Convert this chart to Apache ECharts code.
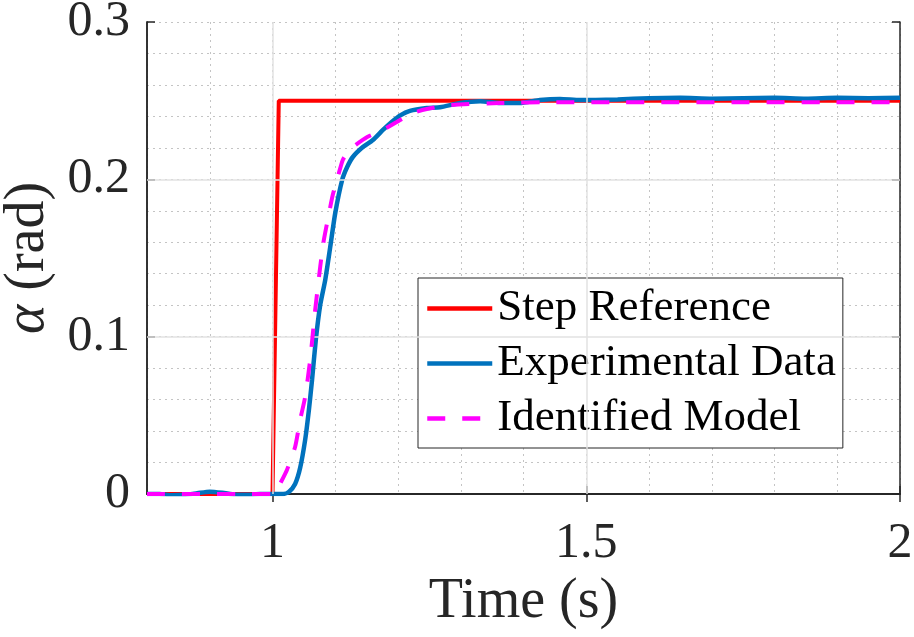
<!DOCTYPE html>
<html>
<head>
<meta charset="utf-8">
<script src="https://cdn.jsdelivr.net/npm/echarts@6/dist/echarts.min.js"></script>
<style>
  html, body { margin: 0; padding: 0; background: #fff; }
  #chart { width: 914px; height: 637px; }
</style>
</head>
<body>
<div id="chart"></div>
<script>
// step reference
const stepTime = [0.8, 1.0, 1.01, 2.0]
const stepValue = [0, 0, 0.25, 0.25]

// measured response
const expTime = [0.8, 0.82, 0.84, 0.86, 0.88, 0.9, 0.92, 0.94, 0.96, 0.98, 1.0, 1.017,
  1.026, 1.036, 1.044, 1.052, 1.058, 1.063, 1.069, 1.076, 1.084, 1.092, 1.1, 1.111,
  1.119, 1.128, 1.144, 1.16, 1.176, 1.19, 1.203, 1.219, 1.246, 1.267, 1.299, 1.331,
  1.363, 1.394, 1.426, 1.458, 1.49, 1.55, 1.6, 1.65, 1.7, 1.75, 1.8, 1.85, 1.9, 1.95, 2.0]
const expValue = [0, 0, -0.0008, -0.0005, 0.0005, 0.0015, 0.0008, -0.0003, -0.0005, 0, 0, 0,
  0.0013, 0.0064, 0.0165, 0.0343, 0.0534, 0.0725, 0.0979, 0.1201, 0.136, 0.157, 0.1786, 0.1996,
  0.2078, 0.2142, 0.2205, 0.225, 0.2314, 0.2365, 0.2405, 0.2435, 0.2453, 0.2458, 0.2485, 0.2497,
  0.2485, 0.2485, 0.2504, 0.2511, 0.2504, 0.2508, 0.2515, 0.2518, 0.2512, 0.2515, 0.2518, 0.2512, 0.2518, 0.2515, 0.2518]

// identified model
const modelTime = [0.8, 1.0, 1.006, 1.012, 1.023, 1.036, 1.044, 1.052, 1.06, 1.068, 1.076,
  1.081, 1.088, 1.096, 1.104, 1.112, 1.12, 1.128, 1.151, 1.176, 1.198, 1.224, 1.246, 1.283,
  1.363, 1.45, 2.0]
const modelValue = [0, 0, 0.0019, 0.0064, 0.0153, 0.0299, 0.047, 0.0617, 0.0852, 0.1169, 0.1443,
  0.1595, 0.1742, 0.19, 0.2015, 0.2123, 0.2174, 0.2206, 0.2269, 0.2314, 0.2364, 0.2422, 0.2447, 0.2472,
  0.2485, 0.249, 0.249]

const xTicks = [1, 1.5, 2]
const yTicks = [0, 0.1, 0.2, 0.3]
const xMajorGrid = [1, 1.5]
const yMajorGrid = [0.1, 0.2]

const pairs = (t, v) => t.map((x, i) => [x, v[i]])
const isTick = (list, v) => list.some((t) => Math.abs(t - v) < 1e-6)

const fontFamily = '"Liberation Serif", "DejaVu Serif", serif'
const axisColor = '#262626'
const minorGrid = { show: true, lineStyle: { color: '#c4c4c4', type: [2, 4], width: 1 } }
const tickStyle = { color: axisColor, width: 1.5 }

const chart = echarts.init(document.getElementById('chart'))

// x axes: [0] labels + minor grid, [1] bottom ticks, [2] top box
const xRange = { type: 'value', min: 0.8, max: 2, interval: 0.1 }
const yRange = { type: 'value', min: 0, max: 0.3, interval: 0.02 }
const tickAxis = (customValues) => ({
  axisLine: { show: true, lineStyle: { color: axisColor, width: 1.5 } },
  axisTick: { show: true, inside: true, length: 8, customValues, lineStyle: tickStyle },
  axisLabel: { show: false },
  splitLine: { show: false }
})

chart.setOption({
  animation: false,
  grid: { left: 147, right: 14, top: 22, bottom: 143, containLabel: false, outerBoundsMode: 'none' },
  xAxis: [
    {
      ...xRange,
      position: 'bottom',
      name: 'Time (s)',
      nameLocation: 'middle',
      nameGap: 78,
      nameTextStyle: { fontFamily, fontSize: 56, color: axisColor },
      axisLine: { show: true, lineStyle: { color: axisColor, width: 1.5 } },
      axisTick: { show: false },
      axisLabel: {
        margin: 25,
        fontFamily,
        fontSize: 50,
        color: axisColor,
        formatter: (v) => (isTick(xTicks, v) ? String(Math.round(v * 10) / 10) : '')
      },
      splitLine: minorGrid
    },
    { ...xRange, position: 'bottom', ...tickAxis(xTicks) },
    { ...xRange, position: 'top', ...tickAxis(xTicks) }
  ],
  yAxis: [
    {
      ...yRange,
      position: 'left',
      name: '{a|α} (rad)',
      nameLocation: 'middle',
      nameGap: 84,
      nameRotate: 90,
      nameTextStyle: {
        fontFamily,
        fontSize: 56,
        color: axisColor,
        rich: { a: { fontFamily, fontSize: 56, fontStyle: 'italic', color: axisColor } }
      },
      axisLine: { show: true, lineStyle: { color: axisColor, width: 1.5 } },
      axisTick: { show: false },
      axisLabel: {
        margin: 17,
        fontFamily,
        fontSize: 50,
        color: axisColor,
        formatter: (v) => (isTick(yTicks, v) ? String(Math.round(v * 10) / 10) : '')
      },
      splitLine: minorGrid
    },
    { ...yRange, position: 'left', ...tickAxis(yTicks) },
    { ...yRange, position: 'right', ...tickAxis(yTicks) }
  ],
  legend: {
    data: ['Step Reference', 'Experimental Data', 'Identified Model'],
    orient: 'vertical',
    left: 418,
    top: 278,
    padding: [8, 7, 7, 7],
    itemGap: 10,
    itemWidth: 65,
    itemHeight: 14,
    backgroundColor: '#fff',
    borderColor: '#262626',
    borderWidth: 1,
    borderRadius: 0,
    itemStyle: { opacity: 0 },
    lineStyle: { width: 4.5 },
    textStyle: { fontFamily, fontSize: 45, color: '#000', lineHeight: 45 }
  },
  series: [
    {
      name: 'grid',
      type: 'line',
      data: [],
      z: 1,
      silent: true,
      markLine: {
        silent: true,
        symbol: 'none',
        label: { show: false },
        lineStyle: { color: '#e2e2e2', type: 'solid', width: 1.5 },
        data: [
          ...xMajorGrid.map((x) => ({ xAxis: x })),
          ...yMajorGrid.map((y) => ({ yAxis: y }))
        ]
      }
    },
    {
      name: 'Step Reference',
      type: 'line',
      data: pairs(stepTime, stepValue),
      symbol: 'none',
      z: 3,
      lineStyle: { color: '#ff0000', width: 4 },
      itemStyle: { color: '#ff0000' }
    },
    {
      name: 'Experimental Data',
      type: 'line',
      data: pairs(expTime, expValue),
      symbol: 'none',
      smooth: 0.2,
      z: 4,
      lineStyle: { color: '#0072bd', width: 4.5 },
      itemStyle: { color: '#0072bd' }
    },
    {
      name: 'Identified Model',
      type: 'line',
      data: pairs(modelTime, modelValue),
      symbol: 'none',
      smooth: 0.2,
      z: 5,
      lineStyle: { color: '#ff00ff', width: 4, type: [18, 17] },
      itemStyle: { color: '#ff00ff' }
    }
  ]
})
</script>
</body>
</html>
